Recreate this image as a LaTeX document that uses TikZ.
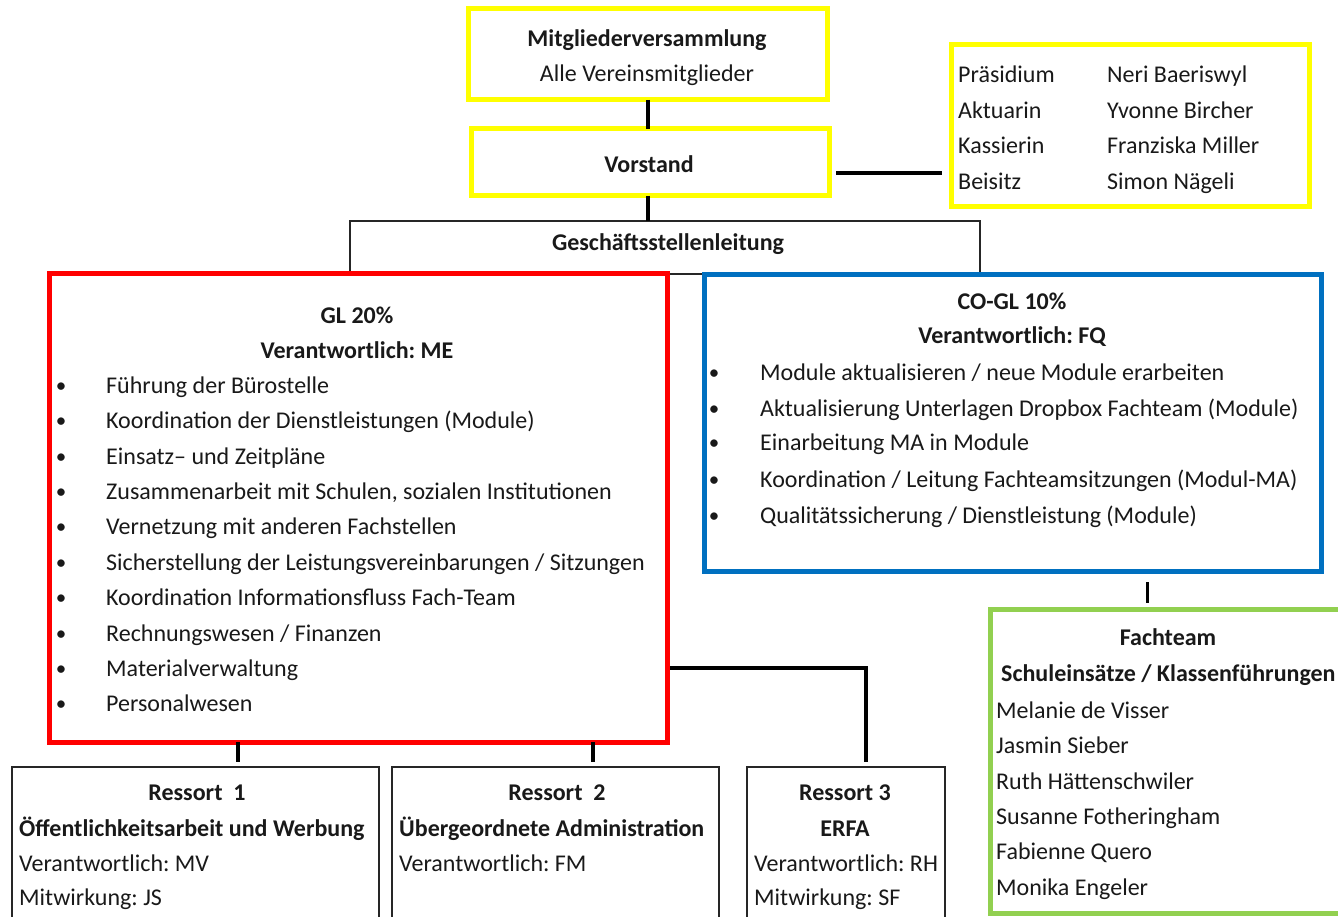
\documentclass[tikz,border=0pt]{standalone}
\usepackage{fontspec}
\setmainfont{Carlito}
\frenchspacing
\usetikzlibrary{calc}
\definecolor{ylw}{RGB}{255,255,0}
\definecolor{rd}{RGB}{255,0,0}
\definecolor{bl}{RGB}{0,112,192}
\definecolor{gr}{RGB}{146,208,80}
\begin{document}
\begin{tikzpicture}[x=1pt,y=-1pt,
  every node/.style={font=\fontsize{24}{29}\selectfont, text=black!90},
  box/.style={draw, rectangle, inner sep=0pt, outer sep=0pt, fill=white},
  ybox/.style={box, draw=ylw, line width=5pt},
  rbox/.style={box, draw=rd, line width=5pt},
  bbox/.style={box, draw=bl, line width=5pt},
  gbox/.style={box, draw=gr, line width=5pt},
  tbox/.style={box, draw=black!85, line width=1.5pt},
  conn/.style={draw=black, line width=4pt},
  tconn/.style={draw=black, line width=3pt},
  lt/.style={anchor=mid west, inner sep=0pt, yshift=-6pt},
  ct/.style={anchor=mid, inner sep=0pt, yshift=-6pt},
  bt/.style={anchor=mid, inner sep=0pt, yshift=-6pt, font=\fontsize{24}{29}\selectfont\bfseries},
  blt/.style={anchor=mid west, inner sep=0pt, yshift=-6pt, font=\fontsize{24}{29}\selectfont\bfseries},
  bul/.style={anchor=mid, inner sep=0pt, yshift=-5pt, font=\fontsize{21}{24}\selectfont}
]
\useasboundingbox (0,0) rectangle (1338,917);
\clip (0,0) rectangle (1338,917);
\fill[white] (0,0) rectangle (1338,917);

% top boxes
\node[ybox, minimum width=359pt, minimum height=91pt] (mv) at (647.5,54.5) {};
\node[bt] (mvt) at (647,38) {Mitgliederversammlung};
\node[ct] (mvs) at (647,73) {Alle Vereinsmitglieder};

\node[ybox, minimum width=358pt, minimum height=67pt] (vs) at (650,162.5) {};
\node[bt] (vst) at (649,164) {Vorstand};

\node[ybox, minimum width=358pt, minimum height=162pt] (pr) at (1130,126) {};
\node[lt] (p1) at (958,74) {Präsidium};
\node[lt] (p2) at (958,110) {Aktuarin};
\node[lt] (p3) at (958,145) {Kassierin};
\node[lt] (p4) at (958,181) {Beisitz};
\node[lt] (n1) at (1107,74) {Neri Baeriswyl};
\node[lt] (n2) at (1107,110) {Yvonne Bircher};
\node[lt] (n3) at (1107,145) {Franziska Miller};
\node[lt] (n4) at (1107,181) {Simon Nägeli};

% Geschaeftsstellenleitung
\node[tbox, minimum width=630pt, minimum height=53pt] (gs) at (665,247.5) {};
\node[bt] (gst) at (668,242) {Geschäftsstellenleitung};

% connectors top
\coordinate (mvx) at (648,0);
\draw[conn] (mv.south -| mvx) -- (vs.north -| mvx);
\draw[conn] (vs.south -| mvx) -- (gs.north -| mvx);
\coordinate (vsr) at (836,173);
\coordinate (prl) at (942,173);
\draw[conn] (vsr) -- (prl);

% red box
\node[rbox, minimum width=618pt, minimum height=468pt] (gl) at (358,508) {};
\node[bt] (glt) at (357,315) {GL 20\%};
\node[bt] (glv) at (357,350) {Verantwortlich: ME};
\foreach \t [count=\i] in {{Führung der Bürostelle},
  {Koordination der Dienstleistungen (Module)},
  {Einsatz– und Zeitpläne},
  {Zusammenarbeit mit Schulen, sozialen Institutionen},
  {Vernetzung mit anderen Fachstellen},
  {Sicherstellung der Leistungsvereinbarungen / Sitzungen},
  {Koordination Informationsfluss Fach-Team},
  {Rechnungswesen / Finanzen},
  {Materialverwaltung},
  {Personalwesen}}{
  \node[bul] (glb\i) at (61,{385+35.4*(\i-1)}) {•};
  \node[lt] (gli\i) at (106,{385+35.4*(\i-1)}) {\t};
}

% blue box
\node[bbox, minimum width=617pt, minimum height=296pt] (co) at (1012.5,423) {};
\node[bt] (cot) at (1012,301) {CO-GL 10\%};
\node[bt] (cov) at (1012,335) {Verantwortlich: FQ};
\foreach \y/\t [count=\i] in {372/{Module aktualisieren / neue Module erarbeiten},
  408/{Aktualisierung Unterlagen Dropbox Fachteam (Module)},
  442/{Einarbeitung MA in Module},
  479/{Koordination / Leitung Fachteamsitzungen (Modul-MA)},
  515/{Qualitätssicherung / Dienstleistung (Module)}}{
  \node[bul] (cob\i) at (714,\y) {•};
  \node[lt] (coi\i) at (760,\y) {\t};
}

% green box
\node[gbox, minimum width=400pt, minimum height=304pt] (ft) at (1190,761) {};
\node[bt] (ftt) at (1168,637) {Fachteam};
\node[blt] (fts) at (1001,673) {Schuleinsätze / Klassenführungen};
\foreach \y/\t [count=\i] in {710/{Melanie de Visser}, 745/{Jasmin Sieber},
  781/{Ruth Hättenschwiler}, 816/{Susanne Fotheringham},
  851/{Fabienne Quero}, 887/{Monika Engeler}}{
  \node[lt] (ftn\i) at (996,\y) {\t};
}
\coordinate (ftc) at (1147,609);
\draw[tconn, shorten <=11pt, shorten >=6pt] (co.south -| ftc) -- (ftc);

% Ressort boxes
\node[tbox, minimum width=367pt, minimum height=160pt] (r1) at (195.5,847) {};
\node[tbox, minimum width=327pt, minimum height=160pt] (r2) at (555.5,847) {};
\node[tbox, minimum width=198pt, minimum height=160pt] (r3) at (846,847) {};

\node[bt] (r1t) at (197,792) {Ressort~~1};
\node[blt] (r1s) at (19,828) {Öffentlichkeitsarbeit und Werbung};
\node[lt] (r1v) at (19,863) {Verantwortlich: MV};
\node[lt] (r1m) at (19,897) {Mitwirkung: JS};

\node[bt] (r2t) at (557,792) {Ressort~~2};
\node[blt] (r2s) at (399,828) {Übergeordnete Administration};
\node[lt] (r2v) at (399,863) {Verantwortlich: FM};

\node[bt] (r3t) at (845,792) {Ressort 3};
\node[bt] (r3s) at (845,828) {ERFA};
\node[lt] (r3v) at (754,863) {Verantwortlich: RH};
\node[lt] (r3m) at (754,897) {Mitwirkung: SF};

% connectors bottom
\coordinate (r1top) at (238,767);
\coordinate (r2top) at (593,767);
\coordinate (r3top) at (866,767);
\coordinate (glr) at (670,668);
\draw[conn, shorten >=5pt] (gl.south -| r1top) -- (r1top);
\draw[conn, shorten >=5pt] (gl.south -| r2top) -- (r2top);
\draw[conn, shorten >=5pt] (glr) -| (r3top);
\end{tikzpicture}
\end{document}
